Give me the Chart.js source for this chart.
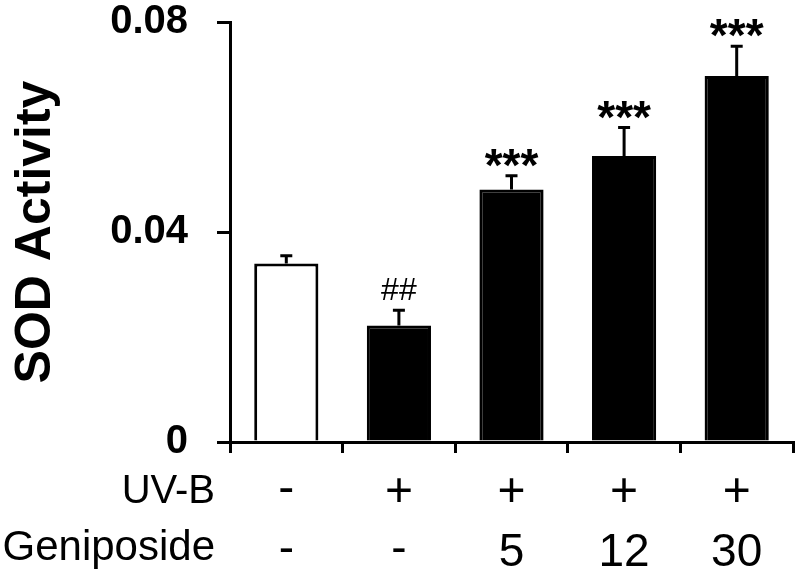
<!DOCTYPE html>
<html>
<head>
<meta charset="utf-8">
<script src="https://cdn.jsdelivr.net/npm/chart.js@4.4.1/dist/chart.umd.min.js"></script>
<style>
  html, body { margin: 0; padding: 0; background: #fff; }
  #wrap { width: 800px; height: 573px; }
</style>
</head>
<body>
<div id="wrap"><canvas id="sodChart"></canvas></div>
<script>
/* data */
const groups = ['Control', 'UV-B', 'UV-B + Gen 5', 'UV-B + Gen 12', 'UV-B + Gen 30'];
const sodMean = [0.034, 0.0222, 0.0481, 0.0545, 0.0697];
const sodErr = [0.0015, 0.0029, 0.0026, 0.0054, 0.0057];
const signif = ['', '##', '***', '***', '***'];
const uvbRow = ['-', '+', '+', '+', '+'];
const genRow = ['-', '-', '5', '12', '30'];
const yTicks = [0, 0.04, 0.08];

const FONT = "'Liberation Sans', Arial, sans-serif";

// draw text so its ink is centred on cy
function inkText(ctx, t, x, cy) {
  const m = ctx.measureText(t);
  ctx.fillText(t, x, cy + (m.actualBoundingBoxAscent - m.actualBoundingBoxDescent) / 2);
}

const extras = {
  id: 'extras',
  afterDatasetsDraw(chart) {
    const { ctx, scales: { x, y } } = chart;
    const bars = chart.getDatasetMeta(0).data;
    ctx.save();
    ctx.strokeStyle = '#000';
    ctx.fillStyle = '#000';
    ctx.lineWidth = 3;
    ctx.textAlign = 'center';
    ctx.textBaseline = 'alphabetic';

    bars.forEach((bar, i) => {
      const top = y.getPixelForValue(sodMean[i] + sodErr[i]);
      const base = y.getPixelForValue(sodMean[i]);
      ctx.beginPath();
      ctx.moveTo(bar.x, base);
      ctx.lineTo(bar.x, top);
      ctx.moveTo(bar.x - 6, top);
      ctx.lineTo(bar.x + 6, top);
      ctx.stroke();

      if (signif[i] === '##') {
        ctx.font = `32px ${FONT}`;
        inkText(ctx, signif[i], bar.x, top - 21);
      } else if (signif[i]) {
        ctx.font = `bold 46px ${FONT}`;
        inkText(ctx, signif[i], bar.x, top - 18);
      }
    });

    // treatment table under the axis
    ctx.textAlign = 'right';
    ctx.font = `40px ${FONT}`;
    ctx.fillText('UV-B', 215, 503);
    ctx.font = `42px ${FONT}`;
    ctx.fillText('Geniposide', 215, 560);

    ctx.textAlign = 'center';
    groups.forEach((g, i) => {
      const cx = x.getPixelForValue(i);
      ctx.font = `48px ${FONT}`;
      inkText(ctx, uvbRow[i], cx, 489.5);
      ctx.font = `46px ${FONT}`;
      inkText(ctx, genRow[i], cx, 550);
    });
    ctx.restore();
  }
};

new Chart(document.getElementById('sodChart'), {
  type: 'bar',
  data: {
    labels: groups,
    datasets: [{
      data: sodMean,
      backgroundColor: sodMean.map((v, i) => i === 0 ? '#fff' : '#000'),
      borderColor: '#000',
      borderWidth: 3,
      barPercentage: 0.57,
      categoryPercentage: 1
    }]
  },
  options: {
    responsive: true,
    maintainAspectRatio: false,
    animation: false,
    layout: { padding: { top: 0, right: 7, bottom: 120, left: 0 } },
    plugins: { legend: { display: false }, tooltip: { enabled: false } },
    scales: {
      x: {
        grid: { offset: true, drawOnChartArea: false, tickLength: 11, color: '#000', lineWidth: 3 },
        border: { color: '#000', width: 3 },
        ticks: { display: false }
      },
      y: {
        min: 0,
        max: 0.08,
        afterBuildTicks: s => { s.ticks = yTicks.map(v => ({ value: v })); },
        afterFit: s => { s.width = 230; s.paddingTop = 22; s.paddingBottom = 0; },
        grid: { drawOnChartArea: false, tickLength: 13, color: '#000', lineWidth: 3 },
        border: { color: '#000', width: 3 },
        ticks: {
          padding: 29,
          color: '#000',
          font: { family: FONT, size: 40, weight: 'bold' },
          callback: v => v === 0 ? '0' : v.toFixed(2)
        },
        title: {
          display: true,
          text: 'SOD Activity',
          color: '#000',
          font: { family: FONT, size: 50, weight: 'bold' },
          padding: { top: 6, bottom: 0 }
        }
      }
    }
  },
  plugins: [extras]
});
</script>
</body>
</html>
